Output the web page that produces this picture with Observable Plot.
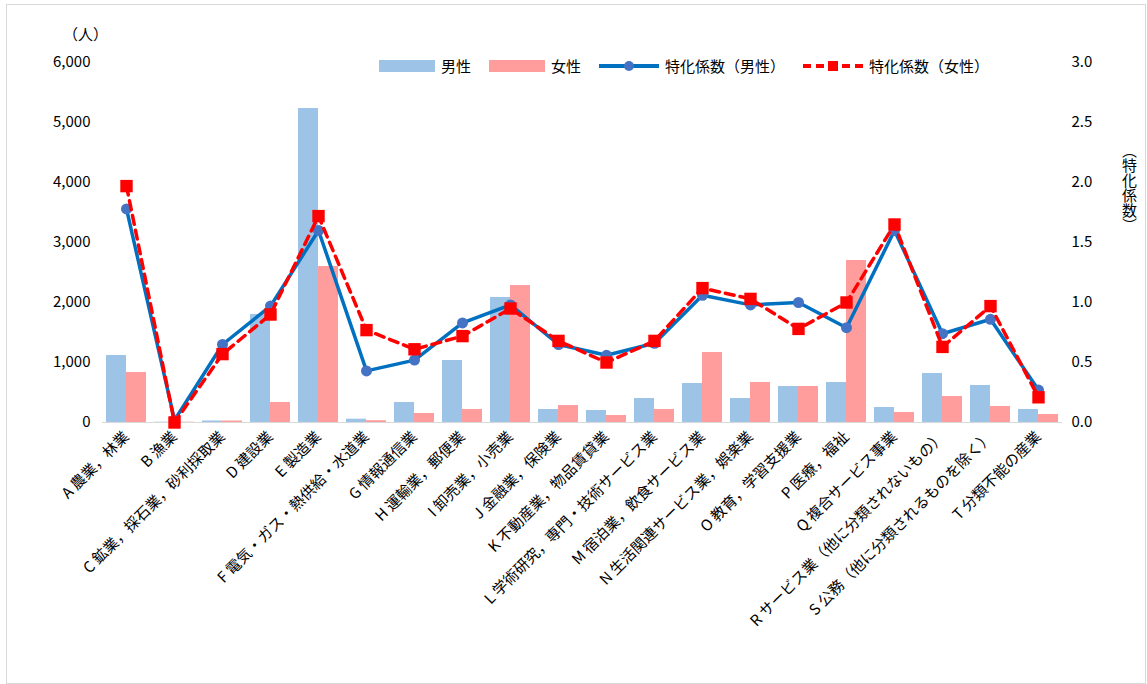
<!DOCTYPE html>
<html><head><meta charset="utf-8">
<script src="https://cdn.jsdelivr.net/npm/d3@7"></script>
<script src="https://cdn.jsdelivr.net/npm/@observablehq/plot@0.6"></script>
<style>
body{margin:0;font-family:"Noto Sans CJK JP",sans-serif;background:#fff}
#wrap{position:relative;width:1140px;height:680px;border:1px solid #d9d9d9;margin:4px 0 0 6px;box-sizing:border-box}
#unit{position:absolute;left:56px;top:18px;font-size:15px}
#rlabel{position:absolute;left:1112px;top:138px;writing-mode:vertical-rl;font-size:15px}
#legend{position:absolute;left:372px;top:50px;font-size:15px;display:flex;gap:18px;align-items:center}
#legend span{display:flex;align-items:center;gap:6px}
</style></head><body>
<div id="wrap"><div id="chart"></div>
<div id="unit">（人）</div>
<div id="rlabel">（特化係数）</div>
<div id="legend">
<span><svg width="56" height="12"><rect width="56" height="12" fill="#9dc3e6"/></svg>男性</span>
<span><svg width="56" height="12"><rect width="56" height="12" fill="#ff9d9d"/></svg>女性</span>
<span><svg width="60" height="12"><line x1="0" x2="60" y1="6" y2="6" stroke="#0070c0" stroke-width="4"/><circle cx="30" cy="6" r="5" fill="#4472c4"/></svg>特化係数（男性）</span>
<span><svg width="60" height="12"><line x1="0" x2="60" y1="6" y2="6" stroke="#ff0000" stroke-width="4" stroke-dasharray="8,5"/><rect x="25" y="1" width="10" height="10" fill="#ff0000"/></svg>特化係数（女性）</span>
</div></div>
<script>
const categories = ["A 農業，林業","B 漁業","C 鉱業，採石業，砂利採取業","D 建設業","E 製造業","F 電気・ガス・熱供給・水道業","G 情報通信業","H 運輸業，郵便業","I 卸売業，小売業","J 金融業，保険業","K 不動産業，物品賃貸業","L 学術研究，専門・技術サービス業","M 宿泊業，飲食サービス業","N 生活関連サービス業，娯楽業","O 教育，学習支援業","P 医療，福祉","Q 複合サービス事業","R サービス業（他に分類されないもの）","S 公務（他に分類されるものを除く）","T 分類不能の産業"];
const male = [1117,5,25,1800,5233,55,333,1033,2083,217,200,400,650,400,600,667,250,817,617,217];
const female = [833,5,25,333,2600,30,150,217,2283,283,117,217,1167,667,600,2700,167,433,267,133];
const coefMale = [1.78,0.02,0.65,0.97,1.6,0.43,0.52,0.83,0.98,0.65,0.56,0.66,1.06,0.98,1.0,0.79,1.6,0.74,0.86,0.27];
const coefFemale = [1.97,0.0,0.57,0.9,1.72,0.77,0.61,0.72,0.95,0.68,0.5,0.68,1.12,1.03,0.78,1.0,1.65,0.63,0.97,0.21];
const k = 2000;
const rows = categories.map((c,i)=>({c,m:male[i],f:female[i],cm:coefMale[i]*k,cf:coefFemale[i]*k}));
const chart = Plot.plot({
  width:1138, height:676,
  marginTop:57, marginBottom:259, marginLeft:95, marginRight:83,
  style:{fontFamily:"Noto Sans CJK JP",fontSize:"14px",color:"#000"},
  x:{domain:categories,padding:0,label:null},
  y:{domain:[0,6000],label:null},
  marks:[
    Plot.ruleY([0],{stroke:"#d9d9d9"}),
    Plot.axisY({ticks:d3.range(0,6001,1000),tickSize:0,tickFormat:d3.format(","),fontSize:15,label:null,dx:-3}),
    Plot.axisY(d3.range(0,3.01,0.5).map(v=>v*k),{anchor:"right",tickSize:0,tickFormat:d=>(d/k).toFixed(1),fontSize:15,label:null}),
    Plot.axisX({tickRotate:-45,tickSize:0,fontSize:15,label:null}),
    Plot.barY(rows,{x:"c",y:"m",fill:"#9dc3e6",insetLeft:14,insetRight:14,dx:-10}),
    Plot.barY(rows,{x:"c",y:"f",fill:"#ff9d9d",insetLeft:14,insetRight:14,dx:10}),
    Plot.line(rows,{x:"c",y:"cm",stroke:"#0070c0",strokeWidth:3.5}),
    Plot.dot(rows,{x:"c",y:"cm",fill:"#4472c4",r:5.5}),
    Plot.line(rows,{x:"c",y:"cf",stroke:"#ff0000",strokeWidth:3.5,strokeDasharray:"9,6"}),
    Plot.dot(rows,{x:"c",y:"cf",fill:"#ff0000",symbol:"square",r:7})
  ]
});
document.getElementById("chart").append(chart);
</script></body></html>
